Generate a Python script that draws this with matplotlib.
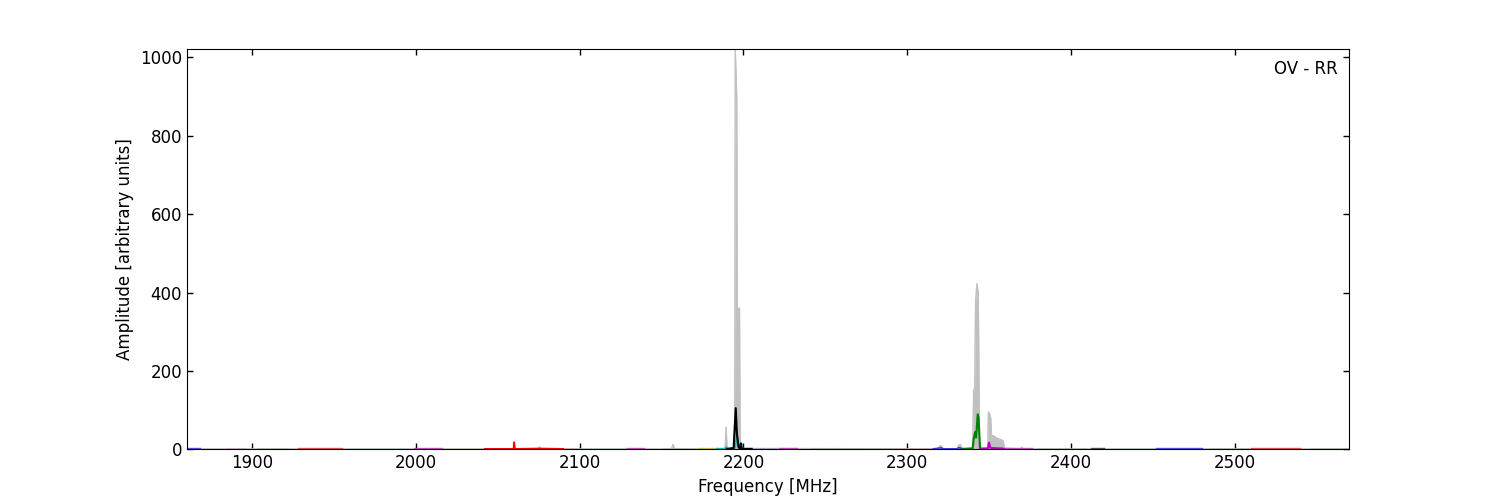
#!/usr/bin/env python3
import matplotlib
matplotlib.use("Agg")
import matplotlib.pyplot as plt

# envelope (grey filled) spectrum: frequency [MHz] and amplitude
gray_freq = [1860, 2074.5, 2075.5, 2076.5, 2156.0, 2157.0, 2158.0,
             2188.8, 2189.4, 2190.0, 2194.6, 2195.0, 2195.9, 2196.2,
             2197.6, 2198.0, 2319.0, 2320.0, 2321.0, 2322.0, 2330.5,
             2331.5, 2332.5, 2333.5, 2340.0, 2340.6, 2341.2, 2341.8,
             2342.6, 2343.4, 2344.2, 2345.0, 2349.2, 2349.6, 2350.4,
             2351.0, 2351.6, 2352.4, 2353.5, 2355.0, 2357.0, 2358.6,
             2359.5, 2369.0, 2370.0, 2371.0, 2570]
gray_amp = [1, 1, 6, 1, 1, 12, 1,
            1, 57, 1, 2, 1021, 900, 360,
            360, 2, 1, 9, 8, 1, 1,
            11, 12, 1, 3, 150, 159, 380,
            423, 400, 20, 3, 3, 95, 90,
            80, 30, 35, 32, 28, 25, 22,
            3, 1, 5, 1, 1]

# sub-band traces near the noise floor
band_lo = [1860, 1884, 1903, 1928, 1960, 1999, 2016, 2042, 2078, 2100,
           2129, 2150, 2172, 2205, 2222, 2241, 2292, 2360, 2380, 2412,
           2425, 2452, 2485, 2510, 2546]
band_hi = [1868, 1896, 1922, 1955, 1995, 2016, 2040, 2058, 2098, 2128,
           2139, 2170, 2184, 2220, 2233, 2290, 2316, 2376, 2410, 2420,
           2450, 2480, 2508, 2540, 2570]
band_level = [2, 1.5, 1.5, 2, 1, 2, 1.5, 1, 1.5, 1,
              3, 1, 3, 1, 2.5, 1.5, 1, 2, 1.5, 2,
              1, 2, 1, 2, 1.5]
band_color = ['b', 'm', 'g', 'r', 'c', 'm', 'y', 'b', 'r', 'c',
              'm', 'g', 'y', 'b', 'm', 'g', 'r', 'm', 'g', 'k',
              'c', 'b', 'g', 'r', 'g']

# traces that show the strongest signals
red_freq = [2042, 2059.5, 2060.0, 2060.5, 2075.0, 2090]
red_amp = [1, 1, 18, 1, 2, 1]

cyan_freq = [2184, 2188.8, 2189.4, 2190.0, 2194.6, 2196.1, 2197.5, 2200]
cyan_amp = [1, 1, 5, 1, 2, 31, 2, 1]

black_freq = [2190, 2194.0, 2195.3, 2196.0, 2197.0, 2198.0, 2198.5, 2199.0, 2205]
black_amp = [1, 3, 105, 40, 5, 2, 15, 1, 1]

blue_freq = [2316, 2319.5, 2320.5, 2322, 2330.5, 2331.5, 2332.5, 2334, 2337]
blue_amp = [1, 3, 4, 1, 1, 4, 3, 1, 1]

green_freq = [2334, 2340.0, 2340.6, 2341.5, 2342.1, 2343.1, 2343.6, 2344.5, 2348]
green_amp = [1, 2, 25, 44, 30, 89, 80, 1, 1]

magenta_freq = [2345, 2349.3, 2350.0, 2350.8, 2352.0, 2358.0, 2359]
magenta_amp = [1, 2, 17, 4, 3, 2, 1]

plt.rcParams['font.family'] = 'DejaVu Sans'
plt.rcParams['font.size'] = 12

fig, ax = plt.subplots(figsize=(15, 5), dpi=100)
fig.subplots_adjust(left=0.1245, right=0.8995, bottom=0.1015, top=0.9015)

ax.fill_between(gray_freq, gray_amp, 0, color='#c0c0c0', lw=0)
ax.plot(gray_freq, gray_amp, color='#c0c0c0', lw=1)

for lo, hi, lvl, c in zip(band_lo, band_hi, band_level, band_color):
    ax.plot([lo, hi], [lvl, lvl], color=c, lw=1, alpha=0.6)

ax.plot(red_freq, red_amp, color='r', lw=1.2)
ax.plot(blue_freq, blue_amp, color='b', lw=1.2, alpha=0.7)
ax.plot(cyan_freq, cyan_amp, color='c', lw=1.5)
ax.plot(black_freq, black_amp, color='k', lw=1.5)
ax.plot(green_freq, green_amp, color='g', lw=1.5)
ax.plot(magenta_freq, magenta_amp, color='m', lw=1.5)

ax.set_xlim(1860, 2570)
ax.set_ylim(0, 1021)
ax.set_xticks([1900, 2000, 2100, 2200, 2300, 2400, 2500])
ax.set_yticks([0, 200, 400, 600, 800, 1000])
ax.tick_params(direction='in', top=True, right=True, length=4, width=1)
ax.set_xlabel('Frequency [MHz]')
ax.set_ylabel('Amplitude [arbitrary units]')
ax.text(0.99, 0.95, 'OV - RR', transform=ax.transAxes, ha='right', va='center')

plt.savefig('out.png', dpi=100)
plt.close()
